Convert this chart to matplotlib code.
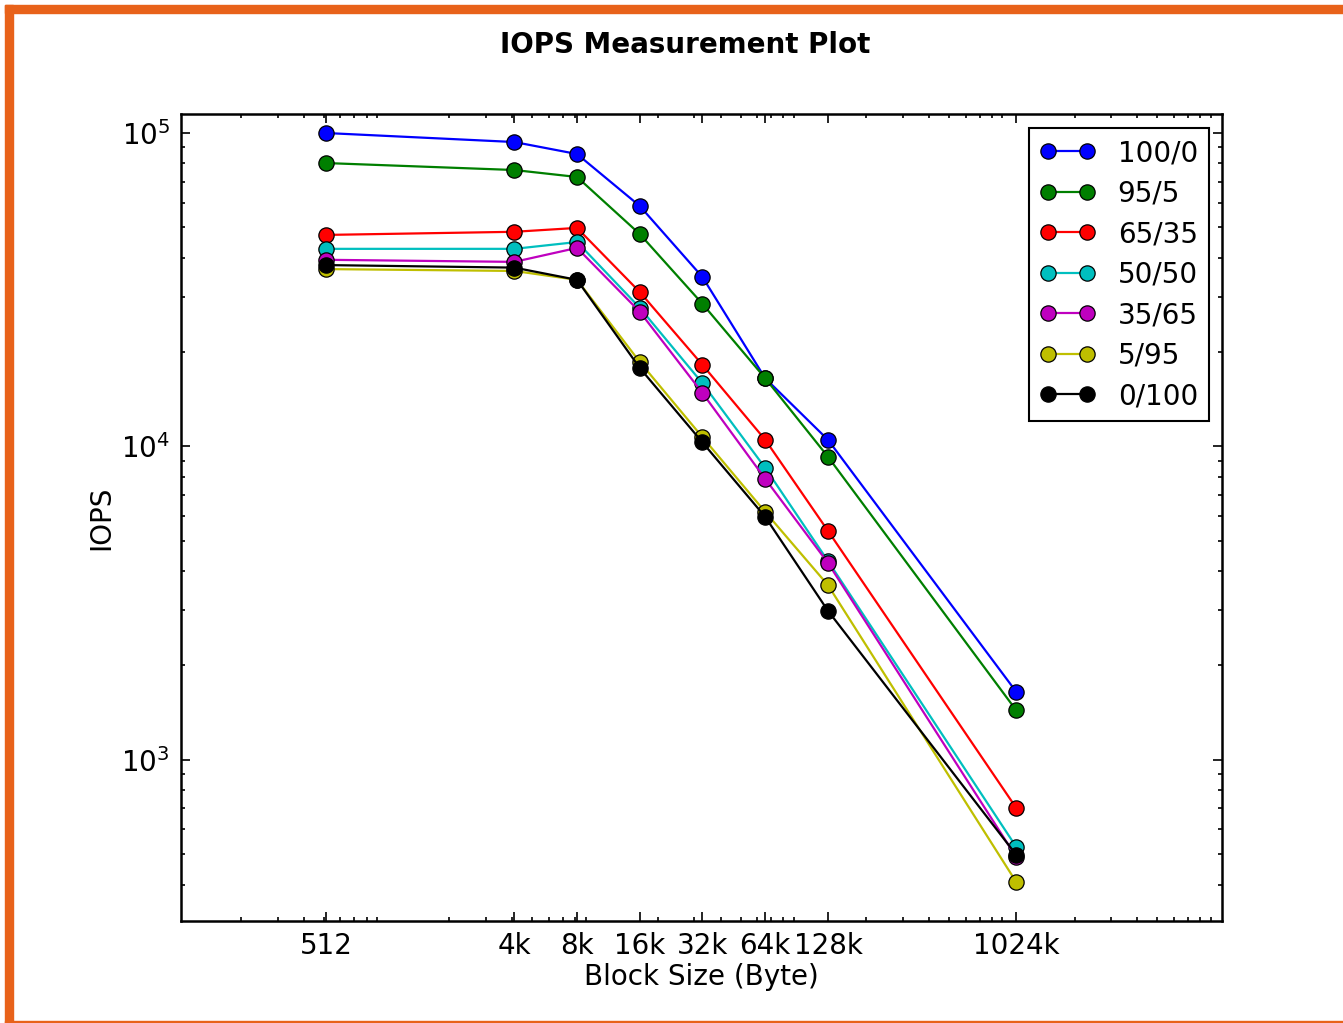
import matplotlib
matplotlib.use("Agg")
import matplotlib.pyplot as plt
from matplotlib.ticker import FixedLocator, FixedFormatter, NullFormatter, LogLocator
from matplotlib.patches import Rectangle

# block sizes in bytes and their tick labels
block_sizes = [512, 4096, 8192, 16384, 32768, 65536, 131072, 1048576]
tick_labels = ["512", "4k", "8k", "16k", "32k", "64k", "128k", "1024k"]

# read/write mix -> IOPS per block size
mixes = ["100/0", "95/5", "65/35", "50/50", "35/65", "5/95", "0/100"]
iops_100_0 = [100000, 93600, 85700, 58500, 34700, 16500, 10500, 1650]
iops_95_5 = [80200, 76200, 72400, 47600, 28500, 16500, 9270, 1440]
iops_65_35 = [47300, 48400, 49800, 31100, 18200, 10500, 5380, 703]
iops_50_50 = [42700, 42700, 44900, 27700, 15900, 8540, 4310, 528]
iops_35_65 = [39400, 38800, 43000, 26900, 14800, 7880, 4250, 490]
iops_5_95 = [36800, 36300, 34000, 18600, 10700, 6180, 3610, 408]
iops_0_100 = [37900, 37200, 34000, 17800, 10300, 5960, 2990, 498]

series = [iops_100_0, iops_95_5, iops_65_35, iops_50_50, iops_35_65, iops_5_95, iops_0_100]
colors = ["#0000ff", "#007f00", "#ff0000", "#00bfbf", "#bf00bf", "#bfbf00", "#000000"]

W, H = 1343, 1023
fig = plt.figure(figsize=(W / 100, H / 100), dpi=100)
fig.patch.set_facecolor("white")

# axes box in pixel terms
left, right, top, bottom = 181, 1222, 114, 921
ax = fig.add_axes([left / W, 1 - bottom / H, (right - left) / W, (bottom - top) / H])

for vals, name, c in zip(series, mixes, colors):
    ax.plot(block_sizes, vals, "-o", color=c, label=name, lw=1.6,
            markersize=11, markeredgecolor="black", markeredgewidth=0.9)

ax.set_xscale("log")
ax.set_yscale("log")
ax.set_xlim(103, 1.02e7)
ax.set_ylim(306, 1.15e5)

ax.xaxis.set_major_locator(FixedLocator(block_sizes))
ax.xaxis.set_major_formatter(FixedFormatter(tick_labels))
ax.xaxis.set_minor_locator(LogLocator(base=10, subs=range(2, 10)))
ax.xaxis.set_minor_formatter(NullFormatter())
ax.yaxis.set_minor_formatter(NullFormatter())

ax.tick_params(which="both", direction="in", top=True, right=True, labelsize=20, width=1.2)
ax.tick_params(which="major", length=6.5, pad=8)
ax.tick_params(which="minor", length=3)
for sp in ax.spines.values():
    sp.set_linewidth(1.8)

ax.set_xlabel("Block Size (Byte)", fontsize=20, labelpad=2)
ax.set_ylabel("IOPS", fontsize=20, labelpad=4)
fig.text(685 / W, 1 - 45 / H, "IOPS Measurement Plot", ha="center", va="center",
         fontsize=20, fontweight="bold")

leg = ax.legend(loc="upper right", bbox_to_anchor=(1209 / W, 1 - 128 / H),
                bbox_transform=fig.transFigure, borderaxespad=0, numpoints=2,
                fontsize=20, fancybox=False, framealpha=1, edgecolor="black",
                handlelength=2.0, handletextpad=0.8, labelspacing=0.45, borderpad=0.4)
leg.get_frame().set_linewidth(1.5)

# orange frame around the figure
orange = "#e8621a"
fig.patches.append(Rectangle((5 / W, 0), 8 / W, 1 - 5 / H, transform=fig.transFigure,
                             color=orange, zorder=10))
fig.patches.append(Rectangle((5 / W, 1 - 13 / H), 1 - 5 / W, 8 / H, transform=fig.transFigure,
                             color=orange, zorder=10))
fig.patches.append(Rectangle((5 / W, 0), 1 - 5 / W, 2 / H, transform=fig.transFigure,
                             color=orange, zorder=10))

fig.savefig("out.png", dpi=100)
